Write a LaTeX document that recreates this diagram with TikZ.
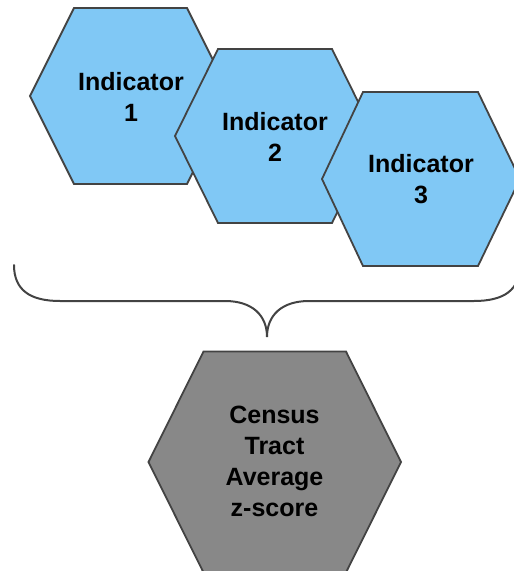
\documentclass[tikz,border=0pt]{standalone}
\usepackage{fontspec}
\setmainfont{Liberation Sans}
\definecolor{hexblue}{HTML}{80C8F5}
\definecolor{hexgray}{HTML}{888888}
\definecolor{hexline}{HTML}{434343}
\begin{document}
\begin{tikzpicture}[x=1pt,y=-1pt,
  hexshape/.style={draw=hexline,line width=1.8pt,line join=miter},
  bluehex/.style={hexshape,fill=hexblue},
  grayhex/.style={hexshape,fill=hexgray},
  label/.style={font=\fontsize{25}{31}\selectfont\bfseries,align=center,anchor=base,inner sep=0pt},
  bracestyle/.style={draw=hexline,line width=2pt,line cap=round}]
\useasboundingbox (0,0) rectangle (514,571);
\clip (0,0) rectangle (514,571);
% Indicator 1
\draw[bluehex] (74,8) -- (187,8) -- (231,96) -- (187,184) -- (74,184) -- (30,96) -- cycle;
\node[label] (ind1) at (131,121.7) {Indicator\\1};
% Indicator 2
\draw[bluehex] (218,49) -- (332,49) -- (375,136) -- (332,223) -- (218,223) -- (175,136) -- cycle;
\node[label] (ind2) at (275,161.7) {Indicator\\2};
% Indicator 3
\draw[bluehex] (363,92) -- (478,92) -- (520,179) -- (478,266) -- (363,266) -- (322,179) -- cycle;
\node[label] (ind3) at (421,203.3) {Indicator\\3};
% brace
\draw[bracestyle] (14,265) .. controls (14,290) and (30,301) .. (60,301) -- (225,301)
  .. controls (252,301) and (267,315) .. (267,337)
  .. controls (267,315) and (282,301) .. (309,301) -- (474,301)
  .. controls (504,301) and (520,290) .. (520,265);
% average
\draw[grayhex] (203.5,351.5) -- (346,351.5) -- (401,462) -- (346,572.5) -- (203.5,572.5) -- (148.5,462) -- cycle;
\node[label] (avg) at (274.5,516.7) {Census\\Tract\\Average\\z-score};
\end{tikzpicture}
\end{document}
